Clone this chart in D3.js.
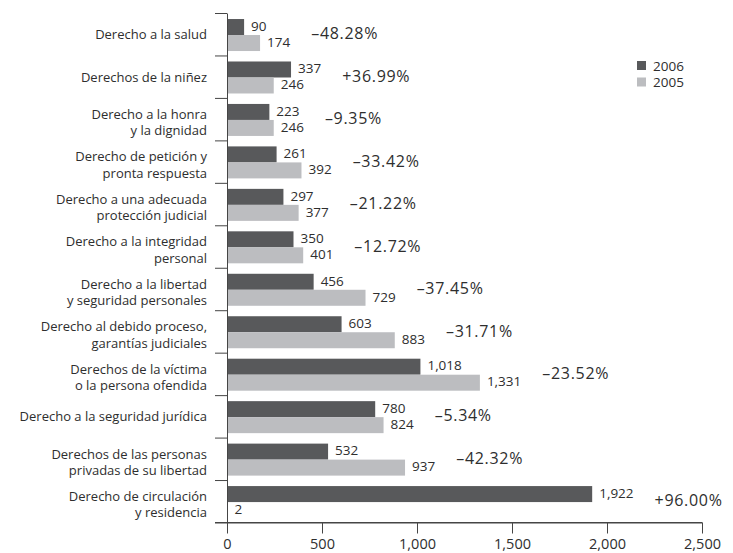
<!DOCTYPE html>
<html>
<head>
<meta charset="utf-8">
<script src="https://cdn.jsdelivr.net/npm/d3@7"></script>
<style>
  html, body { margin: 0; padding: 0; background: #fff; }
  svg { display: block; }
  text { font-family: "Open Sans", sans-serif; fill: #2e2e2e; }
</style>
</head>
<body>
<svg id="chart" width="733" height="553"></svg>
<script>
const categories = [
  "Derecho a la salud",
  "Derechos de la niñez",
  "Derecho a la honra\ny la dignidad",
  "Derecho de petición y\npronta respuesta",
  "Derecho a una adecuada\nprotección judicial",
  "Derecho a la integridad\npersonal",
  "Derecho a la libertad\ny seguridad personales",
  "Derecho al debido proceso,\ngarantías judiciales",
  "Derechos de la víctima\no la persona ofendida",
  "Derecho a la seguridad jurídica",
  "Derechos de las personas\nprivadas de su libertad",
  "Derecho de circulación\ny residencia"
];
const values2006 = [90, 337, 223, 261, 297, 350, 456, 603, 1018, 780, 532, 1922];
const values2005 = [174, 246, 246, 392, 377, 401, 729, 883, 1331, 824, 937, 2];
const changeLabels = ["–48.28%", "+36.99%", "–9.35%", "–33.42%", "–21.22%", "–12.72%",
                      "–37.45%", "–31.71%", "–23.52%", "–5.34%", "–42.32%", "+96.00%"];
const seriesNames = ["2006", "2005"];
const xTicks = [0, 500, 1000, 1500, 2000, 2500];

const colors = { "2006": "#58595b", "2005": "#bcbdc0" };
const axisColor = "#454545";

const svg = d3.select("#chart");
const x = d3.scaleLinear().domain([0, 2500]).range([227, 702]);
const yTop = 13, yBottom = 522.5;
const y = d3.scaleBand().domain(d3.range(categories.length)).range([yTop, yBottom]).padding(0);
const yIdx = d3.scaleLinear().domain([0, categories.length]).range([yTop, yBottom]);
const bw = y.bandwidth();
const barH = 16;
const pad = (bw - 2 * barH) / 2 + 0.8;

const rows = categories.map((c, i) => ({ i, c, v06: values2006[i], v05: values2005[i], pct: changeLabels[i] }));

// bars
const g = svg.append("g");
rows.forEach(r => {
  g.append("rect").attr("x", x(0)).attr("y", y(r.i) + pad)
    .attr("width", x(r.v06) - x(0)).attr("height", barH).attr("fill", colors["2006"]);
  g.append("rect").attr("x", x(0)).attr("y", y(r.i) + pad + barH)
    .attr("width", Math.max(x(r.v05) - x(0), 0.8)).attr("height", barH).attr("fill", colors["2005"]);
});

// axes
const xAxis = d3.axisBottom(x).tickValues(xTicks).tickSize(11).tickSizeOuter(0)
  .tickFormat(d3.format(","));
const gx = svg.append("g").attr("transform", `translate(0,${Math.round(yBottom) - 0.5})`).call(xAxis);
gx.selectAll("path,line").attr("stroke", axisColor);
gx.selectAll("text").attr("font-size", "14.5px").attr("y", 16.5).attr("dy", "0.71em")
  .style("font-family", "'Open Sans', sans-serif").attr("fill", "#2e2e2e");

const yAxis = d3.axisLeft(yIdx).tickValues(d3.range(categories.length + 1)).tickSize(12)
  .tickSizeOuter(0).tickFormat("");
const gy = svg.append("g").attr("transform", `translate(${x(0)},0)`).call(yAxis);
gy.selectAll("path,line").attr("stroke", axisColor);

// horizontal axis line extending left to the category tick
svg.append("line").attr("x1", x(0) - 12).attr("x2", x(2500))
  .attr("y1", Math.round(yBottom) - 0.5).attr("y2", Math.round(yBottom) - 0.5)
  .attr("stroke", axisColor);

// category labels
rows.forEach(r => {
  const lines = r.c.split("\n");
  const cy = y(r.i) + bw / 2;
  const t = svg.append("text").attr("text-anchor", "end").attr("font-size", "13px");
  if (lines.length === 1) {
    t.append("tspan").attr("x", 207).attr("y", cy + 5).text(lines[0]);
  } else {
    lines.forEach((l, k) => {
      t.append("tspan").attr("x", 207).attr("y", cy - 0.3 + k * 16.5).text(l);
    });
  }
});

// value labels + percent labels
const fmt = d3.format(",");
rows.forEach(r => {
  const y06 = y(r.i) + pad + barH / 2;
  const y05 = y(r.i) + pad + barH * 1.5;
  const t1 = svg.append("text").attr("x", x(r.v06) + 7).attr("y", y06 - 1).attr("dy", "0.35em")
    .attr("font-size", "13.5px").text(fmt(r.v06));
  const t2 = svg.append("text").attr("x", x(r.v05) + 7).attr("y", y05 - 1).attr("dy", "0.35em")
    .attr("font-size", "13.5px").text(fmt(r.v05));
  const e1 = x(r.v06) + 7 + t1.node().getComputedTextLength();
  const e2 = x(r.v05) + 7 + t2.node().getComputedTextLength();
  svg.append("text").attr("x", Math.max(e1, e2) + 21).attr("y", y(r.i) + bw / 2 - 0.5)
    .attr("dy", "0.35em").attr("font-size", "16px").attr("letter-spacing", "0.7px")
    .text(r.pct);
});

// legend
const lg = svg.append("g").attr("transform", "translate(637,61)");
seriesNames.forEach((s, k) => {
  lg.append("rect").attr("x", 0).attr("y", k * 16.5).attr("width", 9).attr("height", 9).attr("fill", colors[s]);
  lg.append("text").attr("x", 16).attr("y", k * 16.5 + 9.5).attr("font-size", "13.5px").text(s);
});
</script>
</body>
</html>
